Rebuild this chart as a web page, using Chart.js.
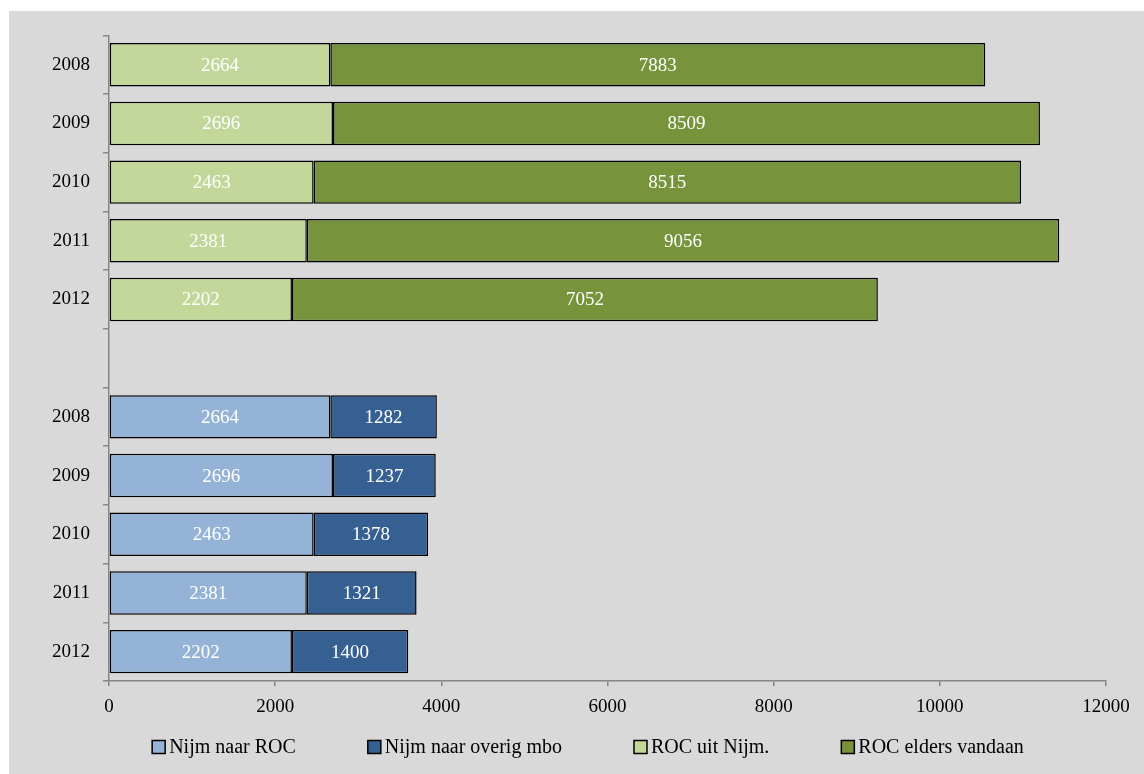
<!DOCTYPE html>
<html>
<head>
<meta charset="utf-8">
<script src="https://cdn.jsdelivr.net/npm/chart.js@4/dist/chart.umd.min.js"></script>
<style>
  html, body { margin: 0; padding: 0; background: #ffffff; }
  #wrap { position: absolute; left: 9px; top: 11px; width: 1135px; height: 763px; background: #d9d9d9; }
  canvas { display: block; }
</style>
</head>
<body>
<div id="wrap"><canvas id="c" width="1135" height="763"></canvas></div>
<script>
// ---- data ----
const years = ['2008', '2009', '2010', '2011', '2012'];
const categories = years.concat([''], years);
const rocUitNijm = [2664, 2696, 2463, 2381, 2202];
const rocEldersVandaan = [7883, 8509, 8515, 9056, 7052];
const nijmNaarRoc = [2664, 2696, 2463, 2381, 2202];
const nijmNaarOverigMbo = [1282, 1237, 1378, 1321, 1400];
const xTicks = [0, 2000, 4000, 6000, 8000, 10000, 12000];
const seriesNames = ['Nijm naar ROC', 'Nijm naar overig mbo', 'ROC uit Nijm.', 'ROC elders vandaan'];
const seriesColors = ['#95b3d7', '#376092', '#c4d79b', '#77933c'];

const blanks = n => Array(n).fill(null);
const FONT = 'Liberation Serif';

const datasets = [
  { label: seriesNames[0], data: blanks(6).concat(nijmNaarRoc), backgroundColor: seriesColors[0] },
  { label: seriesNames[1], data: blanks(6).concat(nijmNaarOverigMbo), backgroundColor: seriesColors[1] },
  { label: seriesNames[2], data: rocUitNijm.concat(blanks(6)), backgroundColor: seriesColors[2] },
  { label: seriesNames[3], data: rocEldersVandaan.concat(blanks(6)), backgroundColor: seriesColors[3] }
].map(d => Object.assign(d, {
  borderColor: '#000000', borderWidth: 1.5, borderSkipped: false,
  barPercentage: 0.74, categoryPercentage: 1.0, stack: 's'
}));

const valueLabels = {
  id: 'valueLabels',
  afterDatasetsDraw(chart) {
    const ctx = chart.ctx;
    ctx.save();
    ctx.fillStyle = '#ffffff';
    ctx.font = '19px "' + FONT + '"';
    ctx.textAlign = 'center';
    ctx.textBaseline = 'middle';
    chart.data.datasets.forEach((ds, i) => {
      const meta = chart.getDatasetMeta(i);
      meta.data.forEach((el, j) => {
        const v = ds.data[j];
        if (v === null || v === undefined) return;
        ctx.fillText(String(v), (el.x + el.base) / 2, el.y + 1);
      });
    });
    ctx.restore();
  }
};

const customLegend = {
  id: 'customLegend',
  afterDraw(chart) {
    const ctx = chart.ctx;
    ctx.save();
    ctx.font = '20px "' + FONT + '"';
    const box = 13, gapBoxText = 4, gapItems = 72;
    const items = chart.data.datasets.map(ds => ({ text: ds.label, color: ds.backgroundColor, w: ctx.measureText(ds.label).width }));
    const total = items.reduce((s, it) => s + box + gapBoxText + it.w, 0) + gapItems * (items.length - 1);
    let x = 579 - total / 2;
    const y = 736;
    ctx.textBaseline = 'middle';
    ctx.textAlign = 'left';
    items.forEach(it => {
      ctx.fillStyle = it.color;
      ctx.fillRect(x, y - box / 2, box, box);
      ctx.lineWidth = 1.5;
      ctx.strokeStyle = '#000000';
      ctx.strokeRect(x, y - box / 2, box, box);
      ctx.fillStyle = '#000000';
      ctx.fillText(it.text, x + box + gapBoxText, y + 1);
      x += box + gapBoxText + it.w + gapItems;
    });
    ctx.restore();
  }
};

new Chart(document.getElementById('c'), {
  type: 'bar',
  data: { labels: categories, datasets: datasets },
  options: {
    indexAxis: 'y',
    responsive: false,
    animation: false,
    layout: { padding: { left: 0, right: 38, top: 23, bottom: 43 } },
    plugins: { legend: { display: false }, tooltip: { enabled: false } },
    scales: {
      x: {
        stacked: true, min: 0, max: 12000,
        afterBuildTicks: s => { s.ticks = xTicks.map(v => ({ value: v })); },
        afterFit: s => { s.height = 50; },
        grid: { drawOnChartArea: false, drawTicks: true, tickLength: 5, color: '#868686', lineWidth: 1.5 },
        border: { color: '#868686', width: 1.5 },
        ticks: { color: '#000000', padding: 10, font: { family: FONT, size: 19 }, callback: v => String(v) }
      },
      y: {
        stacked: true,
        afterFit: s => { s.width = 100; },
        grid: { offset: true, drawOnChartArea: false, drawTicks: true, tickLength: 6, color: '#868686', lineWidth: 1.5 },
        border: { color: '#868686', width: 1.5 },
        ticks: { color: '#000000', padding: 13, font: { family: FONT, size: 19 } }
      }
    }
  },
  plugins: [valueLabels, customLegend]
});
</script>
</body>
</html>
